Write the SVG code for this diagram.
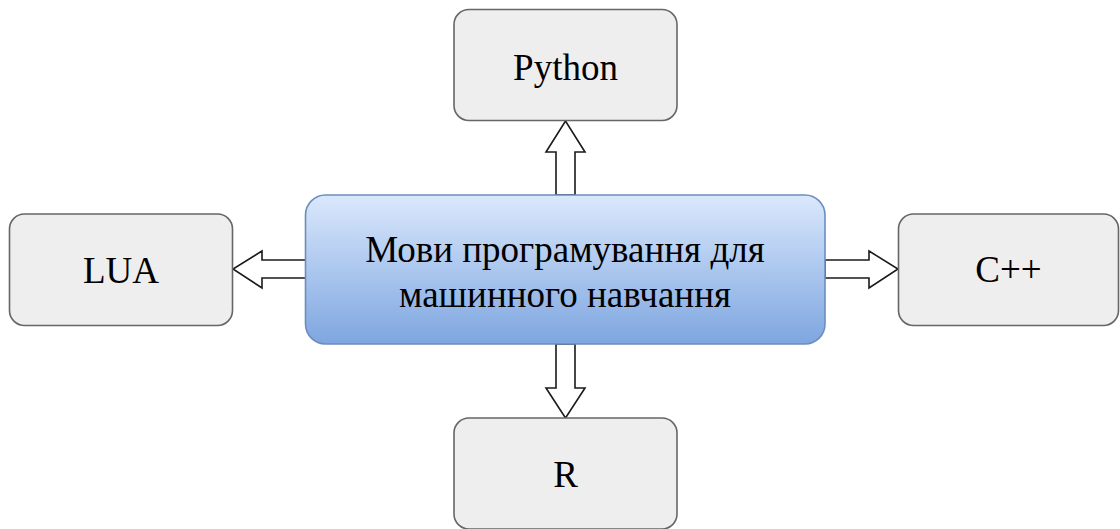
<svg xmlns="http://www.w3.org/2000/svg" width="1120" height="529" viewBox="0 0 1120 529">
  <defs>
    <linearGradient id="blueFill" x1="0" y1="0" x2="0" y2="1">
      <stop offset="0" stop-color="#dae8fc"/>
      <stop offset="1" stop-color="#7ea6e0"/>
    </linearGradient>
    <style>
      .box { fill: #eeeeee; stroke: #666666; stroke-width: 1.6; }
      .main { fill: url(#blueFill); stroke: #6c8ebf; stroke-width: 1.6; }
      .label { font-family: "Liberation Serif", "Times New Roman", serif; font-size: 37px; fill: #000000; text-anchor: middle; }
      .arrow { fill: #ffffff; stroke: #1a1a1a; stroke-width: 1.6; stroke-linejoin: miter; }
    </style>
  </defs>
  <rect width="1120" height="529" fill="#ffffff"/>

  <g id="connectors">
    <!-- block arrows from the central node outward -->
    <polygon class="arrow" points="556,195 556,152 546,152 565.5,121 585,152 575,152 575,195"/>
    <polygon class="arrow" points="306,260 262,260 262,251 233,269 262,288 262,278 306,278"/>
    <polygon class="arrow" points="825,260 869,260 869,251 898,269 869,288 869,278 825,278"/>
    <polygon class="arrow" points="556,344 556,388 546,388 565.5,418 585,388 575,388 575,344"/>
  </g>

  <g id="node-main">
    <rect class="main" x="305.5" y="195" width="519.5" height="149" rx="20" ry="20"/>
    <text class="label" x="565" y="262">Мови програмування для</text>
    <text class="label" x="565" y="307">машинного навчання</text>
  </g>

  <g id="node-python">
    <rect class="box" x="454" y="9.5" width="223" height="111" rx="15" ry="15"/>
    <text class="label" x="565.5" y="80">Python</text>
  </g>

  <g id="node-lua">
    <rect class="box" x="9.5" y="214" width="223" height="111.5" rx="15" ry="15"/>
    <text class="label" x="121" y="282.5">LUA</text>
  </g>

  <g id="node-cpp">
    <rect class="box" x="898.5" y="214" width="220" height="111.5" rx="15" ry="15"/>
    <text class="label" x="1008.5" y="282">C++</text>
  </g>

  <g id="node-r">
    <rect class="box" x="454" y="418" width="223" height="111" rx="15" ry="15"/>
    <text class="label" x="565.5" y="487">R</text>
  </g>
</svg>
